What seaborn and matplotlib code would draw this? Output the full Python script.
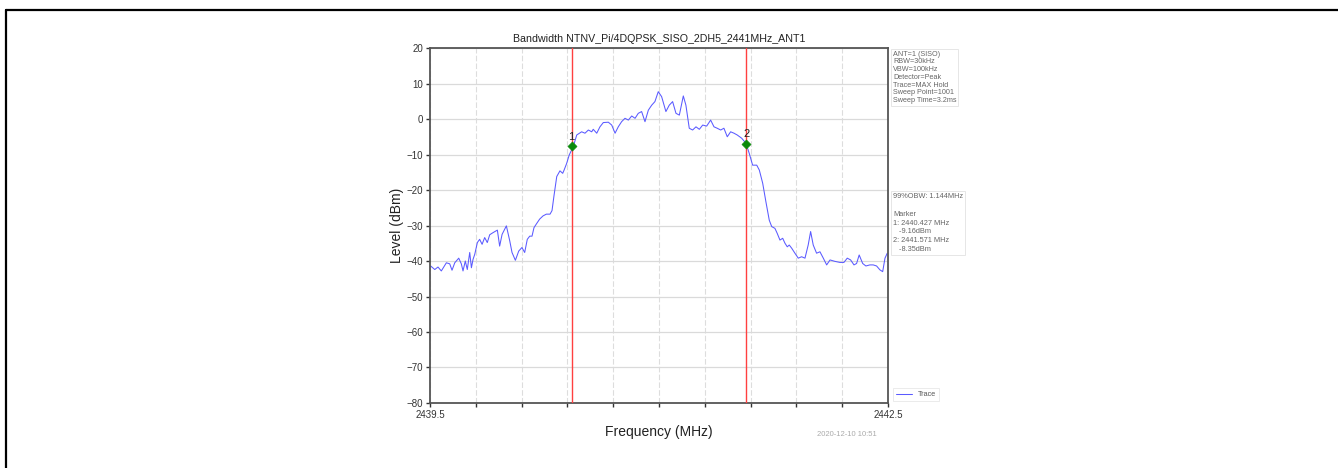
import numpy as np
import pandas as pd
import matplotlib
matplotlib.use("Agg")
import matplotlib.pyplot as plt
from matplotlib.lines import Line2D
import seaborn as sns

# trace (MHz, dBm)
freq = [2439.504, 2439.531, 2439.552, 2439.574, 2439.607, 2439.629, 2439.644, 2439.662,
        2439.688, 2439.705, 2439.716, 2439.731, 2439.744, 2439.760, 2439.771, 2439.782,
        2439.793, 2439.810, 2439.825, 2439.841, 2439.858, 2439.875, 2439.891, 2439.913,
        2439.941, 2439.956, 2439.972, 2440.000, 2440.022, 2440.037, 2440.059, 2440.081,
        2440.102, 2440.120, 2440.137, 2440.153, 2440.168, 2440.181, 2440.196, 2440.218,
        2440.240, 2440.262, 2440.286, 2440.299, 2440.312, 2440.330, 2440.351, 2440.369,
        2440.378, 2440.395, 2440.412, 2440.438, 2440.461, 2440.493, 2440.515, 2440.537,
        2440.559, 2440.569, 2440.592, 2440.613, 2440.635, 2440.668, 2440.690, 2440.712,
        2440.733, 2440.755, 2440.777, 2440.799, 2440.821, 2440.843, 2440.864, 2440.886,
        2440.908, 2440.930, 2440.952, 2440.973, 2440.995, 2441.017, 2441.045, 2441.067,
        2441.089, 2441.111, 2441.133, 2441.159, 2441.176, 2441.198, 2441.220, 2441.242,
        2441.264, 2441.286, 2441.312, 2441.338, 2441.360, 2441.381, 2441.404, 2441.425,
        2441.447, 2441.469, 2441.491, 2441.512, 2441.541, 2441.569, 2441.591, 2441.613,
        2441.640, 2441.657, 2441.679, 2441.700, 2441.722, 2441.738, 2441.759, 2441.774,
        2441.792, 2441.810, 2441.825, 2441.840, 2441.853, 2441.869, 2441.890, 2441.912,
        2441.934, 2441.956, 2441.977, 2441.993, 2442.010, 2442.032, 2442.054, 2442.076,
        2442.098, 2442.120, 2442.152, 2442.185, 2442.211, 2442.233, 2442.255, 2442.277,
        2442.294, 2442.311, 2442.334, 2442.355, 2442.381, 2442.403, 2442.425, 2442.447,
        2442.465, 2442.480, 2442.495]
level = [-41.4, -42.4, -41.7, -42.8, -40.5, -40.8, -42.6, -40.5,
         -39.2, -40.8, -42.8, -40.0, -42.4, -37.6, -41.9, -39.5,
         -38.1, -34.8, -33.9, -35.3, -33.4, -34.8, -32.6, -32.0,
         -31.3, -35.8, -32.5, -30.1, -34.3, -37.6, -39.8, -37.2,
         -36.2, -37.6, -33.9, -33.0, -33.0, -30.6, -29.6, -28.2,
         -27.3, -26.8, -26.8, -25.8, -21.6, -16.2, -14.6, -15.3,
         -14.4, -12.5, -10.1, -7.8, -4.5, -3.6, -4.0, -3.1,
         -3.6, -2.9, -4.0, -2.2, -1.0, -0.9, -1.7, -4.0,
         -2.2, -0.75, 0.2, -0.3, 0.85, 0.2, 1.6, 2.1,
         -0.75, 2.5, 3.9, 4.9, 7.7, 6.3, 2.1, 3.9,
         4.9, 1.6, 1.1, 6.5, 3.9, -2.6, -3.1, -2.2,
         -2.9, -1.7, -2.0, -0.3, -2.2, -2.6, -3.1, -2.6,
         -5.0, -3.6, -4.0, -4.5, -5.4, -6.8, -9.7, -13.0,
         -13.0, -14.4, -18.1, -23.3, -28.5, -30.3, -30.8, -32.2,
         -34.1, -33.6, -35.0, -36.0, -35.5, -36.4, -37.8, -39.2,
         -38.8, -39.2, -35.5, -31.7, -35.5, -37.8, -37.4, -39.2,
         -41.1, -39.7, -40.1, -40.4, -40.4, -39.2, -39.7, -41.1,
         -40.7, -38.3, -40.7, -41.4, -41.1, -41.1, -41.4, -42.5,
         -43.0, -39.2, -37.8]

marker_freq = [2440.427, 2441.571]
marker_level = [-7.6, -6.9]
marker_names = ["1", "2"]

title = "Bandwidth NTNV_Pi/4DQPSK_SISO_2DH5_2441MHz_ANT1"
settings = ["ANT=1 (SISO)", "RBW=30kHz", "VBW=100kHz", "Detector=Peak",
            "Trace=MAX Hold", "Sweep Point=1001", "Sweep Time=3.2ms"]
results = ["99%OBW: 1.144MHz", "", "Marker", "1: 2440.427 MHz", "   -9.16dBm",
           "2: 2441.571 MHz", "   -8.35dBm"]
stamp = "2020-12-10 10:51"

sns.set_style("whitegrid")
plt.rcParams['font.family'] = ['Liberation Sans', 'DejaVu Sans']

fig = plt.figure(figsize=(13.38, 4.68), dpi=100)
ax = fig.add_axes([0.3214, 0.1389, 0.3423, 0.7585])

df = pd.DataFrame({"f": freq, "lvl": level})
sns.lineplot(data=df, x="f", y="lvl", ax=ax, color="#5a5aff", linewidth=0.75,
             label="Trace")

for mf in marker_freq:
    ax.axvline(mf, color="#ff4040", linewidth=1.0, zorder=3)
mk = pd.DataFrame({"f": marker_freq, "lvl": marker_level})
sns.scatterplot(data=mk, x="f", y="lvl", ax=ax, marker="D", color="#0a8a0a",
                s=22, edgecolor="#0a8a0a", zorder=5, legend=False)
for mf, ml, nm in zip(marker_freq, marker_level, marker_names):
    ax.text(mf, ml + 1.2, nm, ha="center", va="bottom", fontsize=8, color="#222222")

ax.set_xlim(2439.5, 2442.5)
ax.set_ylim(-80, 20)
xt = np.linspace(2439.5, 2442.5, 11)
ax.set_xticks(xt)
ax.set_xticklabels(["2439.5"] + [""] * 9 + ["2442.5"])
ax.set_yticks(range(-80, 21, 10))
ax.tick_params(axis="both", labelsize=7, colors="#333333", length=3, width=1,
               bottom=True, left=True, pad=2)
ax.grid(axis="y", color="#dadada", linewidth=0.9, linestyle="-")
ax.grid(axis="x", color="#dddddd", linewidth=0.8, linestyle=(0, (5, 2)))
for sp in ax.spines.values():
    sp.set_color("#555555")
    sp.set_linewidth(1.3)

ax.set_xlabel("Frequency (MHz)", fontsize=10, color="#222222", labelpad=4)
ax.set_ylabel("Level (dBm)", fontsize=10, color="#222222", labelpad=2)
ax.set_title(title, fontsize=7.7, color="#222222", pad=4)

box = dict(boxstyle="square,pad=0.25", facecolor="white", edgecolor="#e2e2e2",
           linewidth=0.6)
fig.text(0.6675, 0.892, "\n".join(settings), fontsize=5.2, color="#666666",
         va="top", ha="left", linespacing=1.15, bbox=box)
fig.text(0.6675, 0.587, "\n".join(results), fontsize=5.3, color="#666666",
         va="top", ha="left", linespacing=1.35, bbox=box)

leg = ax.legend(loc="lower left", bbox_to_anchor=(1.003, -0.005), fontsize=5.2,
                frameon=True, handlelength=2.2, borderpad=0.4, fancybox=False)
leg.get_frame().set_edgecolor("#e2e2e2")
leg.get_frame().set_linewidth(0.6)
for t in leg.get_texts():
    t.set_color("#555555")

fig.text(0.655, 0.072, stamp, fontsize=5.5, color="#aaaaaa", ha="right", va="center")

# frame around the picture (top and left edges visible)
fig.add_artist(Line2D([6 / 1338, 1.0], [1 - 10 / 468, 1 - 10 / 468],
                      transform=fig.transFigure, color="black", linewidth=1.6))
fig.add_artist(Line2D([6 / 1338, 6 / 1338], [0.0, 1 - 10 / 468],
                      transform=fig.transFigure, color="black", linewidth=1.6))

fig.savefig("out.png", dpi=100)
